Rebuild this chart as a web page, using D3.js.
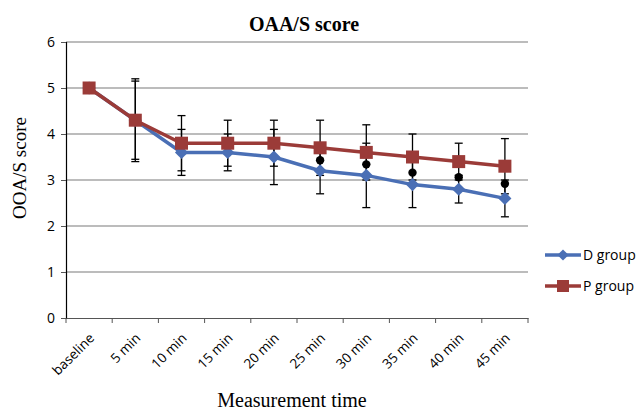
<html>
<script src='https://d3js.org/d3.v7.min.js'></script>
<style>
body {margin:0; background:#fff;}
text {fill:#000;}
</style>
<body>
<svg width=640 height=412></svg>
<script>
var times = ['baseline','5 min','10 min','15 min','20 min','25 min','30 min','35 min','40 min','45 min'];
var dGroup = [5.0, 4.3, 3.6, 3.6, 3.5, 3.2, 3.1, 2.9, 2.8, 2.6];
var pGroup = [5.0, 4.3, 3.8, 3.8, 3.8, 3.7, 3.6, 3.5, 3.4, 3.3];
var dErr = [0, 0.85, 0.5, 0.4, 0.6, 0.5, 0.7, 0.5, 0.3, 0.4];
var pErr = [0, 0.9, 0.6, 0.5, 0.5, 0.6, 0.6, 0.5, 0.4, 0.6];
var dots = [null, null, null, null, null, 3.43, 3.34, 3.16, 3.06, 2.92];
var yTicks = [0,1,2,3,4,5,6];

var svg = d3.select('svg');
var pLeft = 66, pRight = 528, pTop = 42, pBottom = 318;

var xs = d3.scaleBand().domain(times).range([pLeft,pRight]);
var ys = d3.scaleLinear().domain([0,6]).range([pBottom,pTop]);
var cx = function(i) {return xs(times[i]) + xs.bandwidth()/2;};

// gridlines
svg.append('g').selectAll('line').data(yTicks.slice(1)).enter().append('line')
.attr('x1',pLeft).attr('x2',pRight)
.attr('y1',function(d){return ys(d);}).attr('y2',function(d){return ys(d);})
.attr('stroke','#a6a6a6').attr('stroke-width',1.3);

// y axis
var yAxis = d3.axisLeft(ys).tickValues(yTicks).tickSize(5).tickPadding(6).tickFormat(d3.format('d'));
var gy = svg.append('g').attr('transform','translate('+pLeft+',0)').call(yAxis);
gy.select('.domain').attr('stroke','#000').attr('stroke-width',1.2);
gy.selectAll('.tick line').attr('stroke','#555');
gy.selectAll('text').attr('font-family','Open Sans, sans-serif').attr('font-size',14);

// x axis
var gx = svg.append('g').attr('transform','translate(0,'+pBottom+')').call(d3.axisBottom(xs).tickSize(0).tickFormat(''));
gx.select('.domain').attr('stroke','#555').attr('stroke-width',1.2);
var bounds = d3.range(times.length+1).map(function(i){return pLeft + i*xs.step();});
gx.selectAll('.bt').data(bounds).enter().append('line')
.attr('x1',function(d){return d;}).attr('x2',function(d){return d;})
.attr('y1',0).attr('y2',5).attr('stroke','#555');
svg.append('g').selectAll('text').data(times).enter().append('text')
.attr('transform',function(d,i){return 'translate('+(cx(i)+6)+','+(pBottom+21)+') rotate(-45)';})
.attr('text-anchor','end')
.attr('font-family','Open Sans, sans-serif').attr('font-size',13.5)
.text(function(d){return d;});

// error bars
function errBars(vals, errs) {
  var g = svg.append('g').attr('stroke','#000').attr('stroke-width',1.3);
  vals.forEach(function(v,i){
    if (!errs[i]) return;
    var x = cx(i), y1 = ys(v+errs[i]), y2 = ys(v-errs[i]);
    g.append('line').attr('x1',x).attr('x2',x).attr('y1',y1).attr('y2',y2);
    g.append('line').attr('x1',x-4).attr('x2',x+4).attr('y1',y1).attr('y2',y1);
    g.append('line').attr('x1',x-4).attr('x2',x+4).attr('y1',y2).attr('y2',y2);
  });
}
errBars(dGroup, dErr);
errBars(pGroup, pErr);

var line = d3.line().x(function(d,i){return cx(i);}).y(function(d){return ys(d);});

// D group
svg.append('path').datum(dGroup).attr('d',line)
.attr('fill','none').attr('stroke','#4a6fb5').attr('stroke-width',3.5);
svg.append('g').selectAll('path').data(dGroup).enter().append('path')
.attr('d',d3.symbol().type(d3.symbolDiamond2).size(110))
.attr('transform',function(d,i){return 'translate('+cx(i)+','+ys(d)+')';})
.attr('fill','#4a6fb5');

// P group
svg.append('path').datum(pGroup).attr('d',line)
.attr('fill','none').attr('stroke','#9b3b38').attr('stroke-width',3.5);
svg.append('g').selectAll('rect').data(pGroup).enter().append('rect')
.attr('x',function(d,i){return cx(i)-6.5;}).attr('y',function(d){return ys(d)-6.5;})
.attr('width',13).attr('height',13).attr('fill','#9b3b38');

// black dots
svg.append('g').selectAll('circle').data(dots).enter().append('circle')
.attr('cx',function(d,i){return cx(i);}).attr('cy',function(d){return d===null ? 0 : ys(d);})
.attr('r',4.2).attr('fill','#000')
.style('display',function(d){return d===null ? 'none' : null;});

// titles
svg.append('text').attr('x',304).attr('y',31).attr('text-anchor','middle')
.attr('font-family','Liberation Serif, serif').attr('font-weight','bold').attr('font-size',20)
.text('OAA/S score');
svg.append('text').attr('transform','translate(26,168) rotate(-90)').attr('text-anchor','middle')
.attr('font-family','Liberation Serif, serif').attr('font-size',19)
.text('OOA/S score');
svg.append('text').attr('x',292).attr('y',407).attr('text-anchor','middle')
.attr('font-family','Liberation Serif, serif').attr('font-size',20)
.text('Measurement time');

// legend
var legend = [{name:'D group', color:'#4a6fb5', y:255}, {name:'P group', color:'#9b3b38', y:286}];
legend.forEach(function(l,i){
  svg.append('line').attr('x1',545).attr('x2',581).attr('y1',l.y).attr('y2',l.y)
  .attr('stroke',l.color).attr('stroke-width',3.5);
  if (i==0) {
    svg.append('path').attr('d',d3.symbol().type(d3.symbolDiamond2).size(80))
    .attr('transform','translate(563,'+l.y+')').attr('fill',l.color);
  } else {
    svg.append('rect').attr('x',557).attr('y',l.y-6).attr('width',12).attr('height',12).attr('fill',l.color);
  }
  svg.append('text').attr('x',583).attr('y',l.y+5)
  .attr('font-family','Open Sans, sans-serif').attr('font-size',14)
  .text(l.name);
});
</script>
</body>
</html>
